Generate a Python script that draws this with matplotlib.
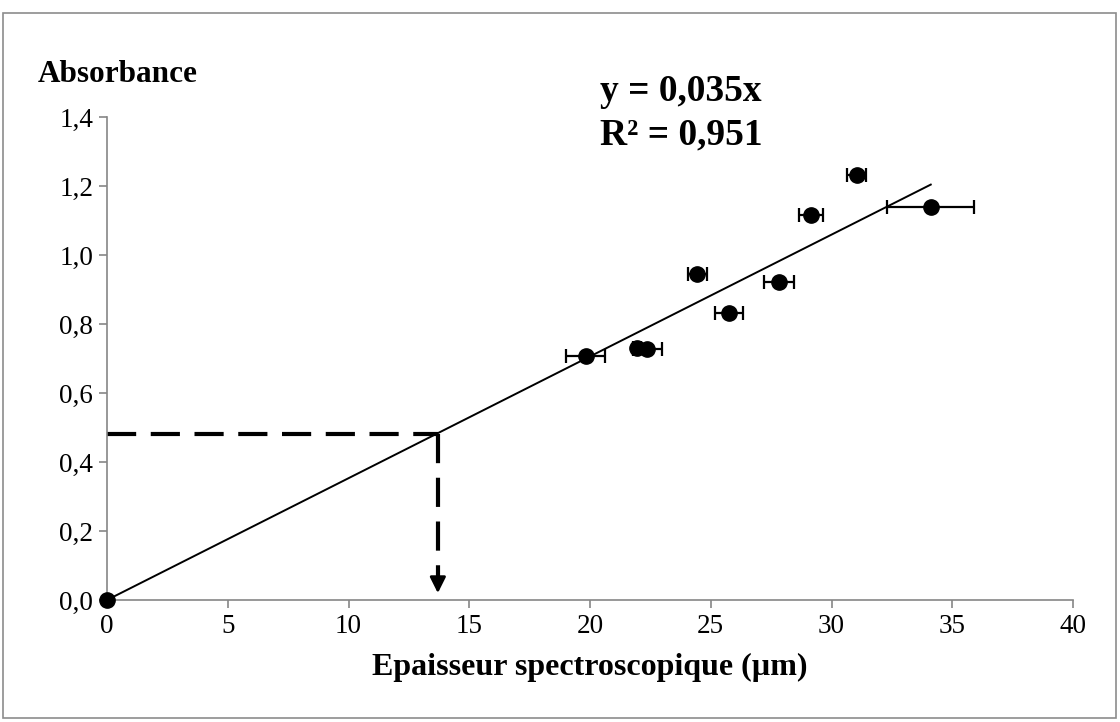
import matplotlib
matplotlib.use("Agg")
import matplotlib.pyplot as plt
from matplotlib.patches import Rectangle
from matplotlib.ticker import FuncFormatter

# Measured points: spectroscopic thickness (um) vs absorbance
thickness = [0.0, 19.82, 21.93, 22.37, 24.45, 25.77, 27.83, 29.15, 31.04, 34.11]
absorbance = [0.0, 0.708, 0.730, 0.727, 0.944, 0.831, 0.923, 1.116, 1.232, 1.138]
thickness_err = [0.0, 0.81, 0.17, 0.60, 0.40, 0.58, 0.62, 0.50, 0.40, 1.81]

slope = 0.0353
equation_text = "y = 0,035x\nR² = 0,951"

# Reading of an unknown sample on the calibration line
read_absorbance = 0.48
read_thickness = 13.7

x_ticks = [0, 5, 10, 15, 20, 25, 30, 35, 40]
y_ticks = [0.0, 0.2, 0.4, 0.6, 0.8, 1.0, 1.2, 1.4]

plt.rcParams["font.family"] = ["Liberation Serif", "DejaVu Serif"]

W, H = 1120, 722
fig = plt.figure(figsize=(W / 100, H / 100), dpi=100)
ax = fig.add_axes([107 / W, 1 - 600 / H, (1073 - 107) / W, (600 - 117) / H])

# outer frame
fig.patches.append(Rectangle((3 / W, 4 / H), 1113 / W, 705 / H, transform=fig.transFigure,
                             fill=False, edgecolor="#8c8c8c", linewidth=1.2))

grey = "#868686"
for side in ("top", "right"):
    ax.spines[side].set_visible(False)
for side in ("left", "bottom"):
    ax.spines[side].set_color(grey)
    ax.spines[side].set_linewidth(1.2)

ax.set_xlim(0, 40)
ax.set_ylim(0, 1.4)
ax.set_xticks(x_ticks)
ax.set_yticks(y_ticks)
ax.yaxis.set_major_formatter(FuncFormatter(lambda v, _: f"{v:.1f}".replace(".", ",")))
ax.tick_params(axis="both", direction="out", length=6, width=1.2, color=grey,
               labelsize=19.5, pad=4)

# calibration line through origin, up to the last point
x_end = max(thickness)
ax.plot([0, x_end], [0, slope * x_end], color="black", linewidth=1.4)

# dashed reading guides
ax.plot([0, read_thickness], [read_absorbance, read_absorbance], color="black",
        linewidth=3, dashes=(7, 3.5), dash_capstyle="butt", clip_on=False)
ax.plot([read_thickness, read_thickness], [read_absorbance, 0.06], color="black",
        linewidth=3, dashes=(7, 3.5), dash_capstyle="butt")
ax.annotate("", xy=(read_thickness, 0.02), xytext=(read_thickness, 0.07),
            arrowprops=dict(arrowstyle="-|>", color="black", lw=2, mutation_scale=24,
                            shrinkA=0, shrinkB=0))

ax.errorbar(thickness, absorbance, xerr=thickness_err, fmt="o", color="black",
            markersize=11, ecolor="black", elinewidth=1.6, capsize=5, capthick=1.6,
            clip_on=False, zorder=5)

fig.text(38 / W, 1 - 75 / H, "Absorbance", fontsize=22.5, fontweight="bold",
         ha="left", va="center")
fig.text(600 / W, 1 - 113 / H, equation_text, fontsize=27, fontweight="bold",
         ha="left", va="center", linespacing=1.3)
ax.set_xlabel("Epaisseur spectroscopique (µm)", fontsize=23, fontweight="bold", labelpad=10)

fig.savefig("out.png", dpi=100)
